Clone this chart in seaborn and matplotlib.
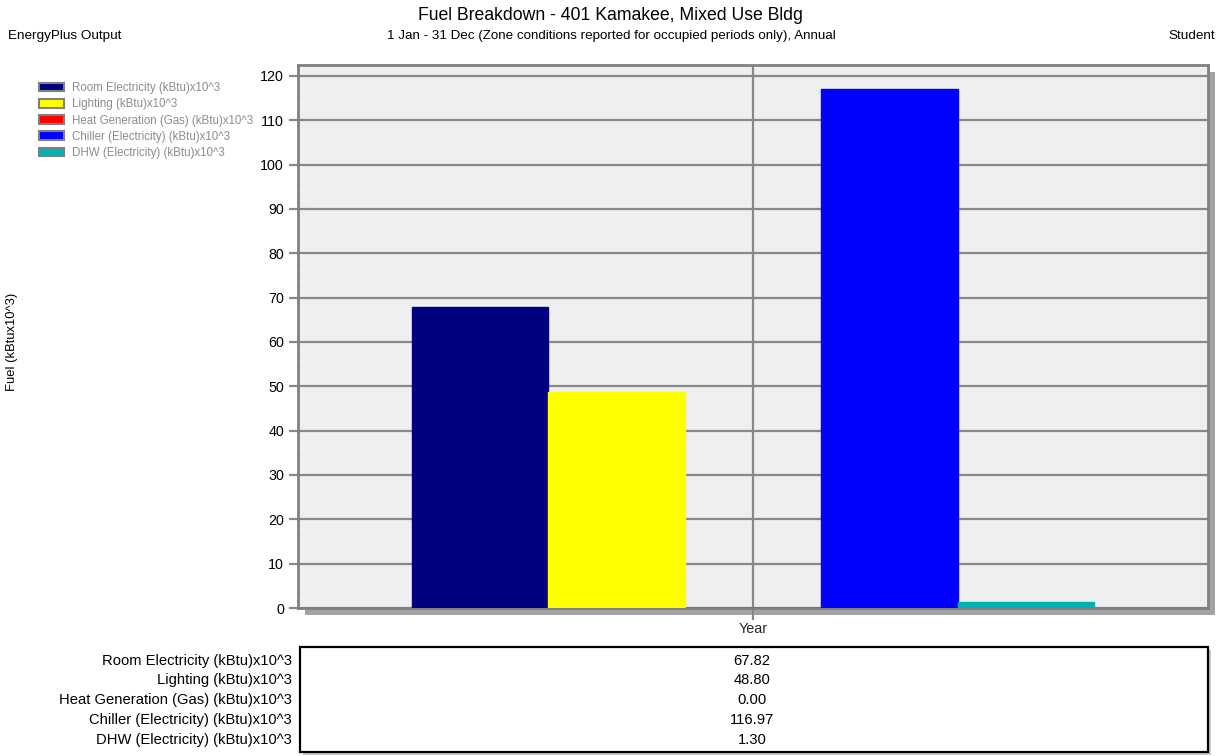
import matplotlib
matplotlib.use("Agg")
import matplotlib.pyplot as plt
from matplotlib.patches import Patch, Rectangle
from matplotlib.ticker import MultipleLocator
import seaborn as sns
import pandas as pd

# Annual fuel totals (kBtu x 10^3)
series = [
    "Room Electricity (kBtu)x10^3",
    "Lighting (kBtu)x10^3",
    "Heat Generation (Gas) (kBtu)x10^3",
    "Chiller (Electricity) (kBtu)x10^3",
    "DHW (Electricity) (kBtu)x10^3",
]
values = [67.82, 48.80, 0.00, 116.97, 1.30]
colors = ["#000080", "#FFFF00", "#FF0000", "#0000FF", "#00B2B2"]
period = ["Year"] * len(series)
yticks = list(range(0, 121, 10))

df = pd.DataFrame({"period": period, "series": series, "value": values})

sns.set_theme(style="white")
plt.rcParams["font.family"] = ["Liberation Sans", "DejaVu Sans"]

W, H = 1230, 756
fig = plt.figure(figsize=(W / 100, H / 100), dpi=100)
fig.patch.set_facecolor("white")

def fx(px):
    return px / W

def fy(py):
    return 1 - py / H

# plot area in pixel coordinates
L, T, R, B = 298, 65, 1208, 608
ax = fig.add_axes([fx(L), fy(B), fx(R - L), (B - T) / H])
ax.set_facecolor("#EEEFEE")

# drop shadow behind the plot frame
fig.patches.append(Rectangle((fx(L + 7), fy(B + 7)), fx(R - L), (B - T) / H,
                             transform=fig.transFigure, facecolor="#A3A3A3",
                             edgecolor="none", zorder=-5))

sns.barplot(data=df, x="period", y="value", hue="series", hue_order=series,
            palette=colors, width=0.75, saturation=1, legend=False,
            linewidth=1, ax=ax, zorder=3)
# outline each bar in its own colour so a zero value still shows as a line
for p in ax.patches:
    p.set_edgecolor(p.get_facecolor())
    p.set_linewidth(1)

ymax = (B - T) / ((B - 76) / 120.0)
ax.set_ylim(0, ymax)
ax.set_xlim(-0.5, 0.5)
ax.set_yticks(yticks)
ax.set_yticklabels([str(t) for t in yticks], fontsize=10.3, color="black")
ax.yaxis.set_minor_locator(MultipleLocator(2))
ax.yaxis.grid(True, which="major", color="#888888", linewidth=1.6, zorder=1)
ax.xaxis.grid(True, color="#888888", linewidth=1.6, zorder=1)
ax.set_axisbelow(True)
ax.tick_params(axis="y", which="major", length=6.5, width=1.6, color="#888888",
               direction="out", pad=3.5, left=True)
ax.tick_params(axis="y", which="minor", length=5, width=1, color="#F7F7F7",
               direction="in", left=True)
ax.tick_params(axis="x", which="major", length=8.6, width=1.6, color="#888888",
               direction="out", pad=1.5, labelsize=10.3, bottom=True)
ax.set_xlabel("")
ax.set_ylabel("")
for s in ax.spines.values():
    s.set_color("#808080")
    s.set_linewidth(2)

# title block
fig.text(fx(610), fy(15), "Fuel Breakdown - 401 Kamakee, Mixed Use Bldg",
         ha="center", va="center", fontsize=12.7, color="black")
fig.text(fx(611), fy(36),
         "1 Jan - 31 Dec (Zone conditions reported for occupied periods only), Annual",
         ha="center", va="center", fontsize=9.65, color="black")
fig.text(fx(8), fy(36), "EnergyPlus Output", ha="left", va="center",
         fontsize=9.7, color="black")
fig.text(fx(1215), fy(36), "Student", ha="right", va="center",
         fontsize=9.7, color="black")
fig.text(fx(12), fy(342), "Fuel (kBtux10^3)", ha="center", va="center",
         rotation=90, fontsize=9.4, color="black")

# legend
handles = [Patch(facecolor=c, edgecolor="#808080", linewidth=1.5) for c in colors]
fig.legend(handles, series, loc="upper left", bbox_to_anchor=(fx(39), fy(82)),
           frameon=False, fontsize=8.3, labelcolor="#8C8C8C", handlelength=2.15,
           handleheight=0.8, handletextpad=0.75, labelspacing=0.37,
           borderaxespad=0, borderpad=0)

# data table under the chart
tb_l, tb_t, tb_r, tb_b = 300, 647, 1208, 752
fig.patches.append(Rectangle((fx(tb_l + 3), fy(tb_b + 3)), fx(tb_r - tb_l),
                             (tb_b - tb_t) / H, transform=fig.transFigure,
                             facecolor="#C8C8C8", edgecolor="none", zorder=-5))
fig.patches.append(Rectangle((fx(tb_l), fy(tb_b)), fx(tb_r - tb_l),
                             (tb_b - tb_t) / H, transform=fig.transFigure,
                             facecolor="white", edgecolor="black", linewidth=1.6,
                             zorder=-4))
row_y = [661, 680, 700, 720, 740]
for name, val, yy in zip(series, values, row_y):
    fig.text(fx(292), fy(yy), name, ha="right", va="center", fontsize=10.6,
             color="black")
    fig.text(fx(752), fy(yy), f"{val:.2f}", ha="center", va="center",
             fontsize=10.6, color="black")

fig.savefig("out.png", dpi=100, facecolor="white")
